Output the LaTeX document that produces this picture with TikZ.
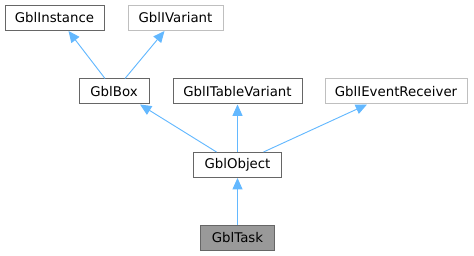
\documentclass[tikz,border=0pt]{standalone}
\usepackage{fontspec}
\setmainfont{DejaVu Sans}
\usetikzlibrary{arrows.meta}
\definecolor{edgeblue}{HTML}{63B8FF}
\definecolor{boxgray}{HTML}{666666}
\definecolor{extgray}{HTML}{BFBFBF}
\definecolor{curfill}{HTML}{999999}
\tikzset{
  cls/.style={draw=boxgray, fill=white, line width=0.75pt, inner sep=0pt, minimum height=18.75pt, font=\fontsize{10}{12}\selectfont},
  extcls/.style={cls, draw=extgray},
  curcls/.style={cls, fill=curfill},
  inherit/.style={draw=edgeblue, line width=0.7pt, -{Triangle[length=8.5pt, width=7.5pt]}}
}
\begin{document}
\begin{tikzpicture}[x=0.75pt, y=-0.75pt]
  \useasboundingbox (0,0) rectangle (474,256);
  % classes
  \node[cls, minimum width=74.25pt] (inst) at (54.5,18) {GblInstance};
  \node[extcls, minimum width=71.25pt] (ivar) at (175.5,18) {GblIVariant};
  \node[cls, minimum width=52.5pt] (box) at (114,91.5) {GblBox};
  \node[cls, minimum width=96.75pt] (itab) at (237.5,91.5) {GblITableVariant};
  \node[extcls, minimum width=106.5pt] (ievt) at (396,91.5) {GblIEventReceiver};
  \node[cls, minimum width=66pt] (obj) at (237.5,165) {GblObject};
  \node[curcls, minimum width=55.5pt] (task) at (237.5,237.5) {GblTask};
  % inheritance
  \draw[inherit] ([xshift=-6.75pt]box.north) -- ([xshift=10.5pt]inst.south);
  \draw[inherit] ([xshift=8.25pt]box.north) -- ([xshift=-8.25pt]ivar.south);
  \draw[inherit] ([xshift=-15.75pt]obj.north) -- ([xshift=19.5pt]box.south);
  \draw[inherit] (obj.north) -- (itab.south);
  \draw[inherit] ([xshift=19.5pt]obj.north) -- ([xshift=-21.75pt]ievt.south);
  \draw[inherit] (task) -- (obj);
\end{tikzpicture}
\end{document}
